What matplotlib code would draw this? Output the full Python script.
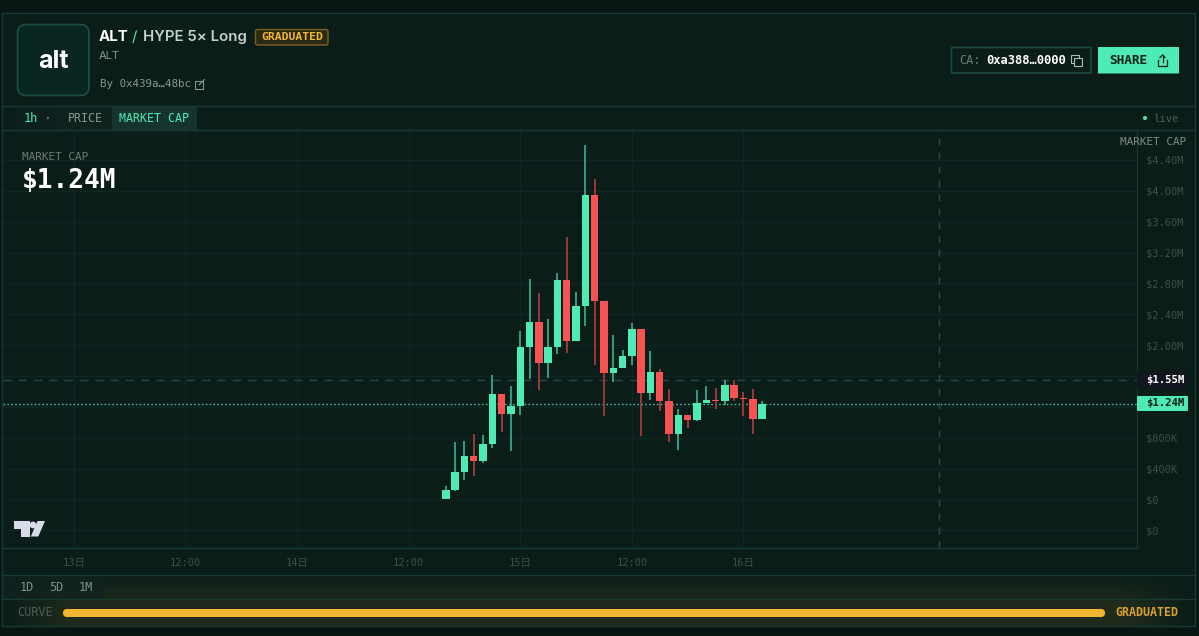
import matplotlib
matplotlib.use("Agg")
import matplotlib.pyplot as plt
from matplotlib.patches import Rectangle, FancyBboxPatch, Polygon, Circle
import numpy as np

plt.rcParams['font.family'] = ['DejaVu Sans Mono', 'Noto Sans CJK JP']

# hourly candles, x = hours after 14日 16:00, values in $M
hours = list(range(35))
opens = [0.01, 0.12, 0.36, 0.56, 0.505, 0.715, 1.363, 1.104, 1.21, 1.97, 2.304, 1.77,
         1.98, 2.848, 2.058, 2.51, 3.948, 2.572, 1.64, 1.709, 1.864, 2.21, 1.381, 1.653,
         1.273, 0.845, 1.096, 1.027, 1.247, 1.291, 1.278, 1.48, 1.311, 1.304, 1.049]
closes = [0.12, 0.36, 0.56, 0.505, 0.715, 1.363, 1.104, 1.213, 1.972, 2.304, 1.77, 1.981,
          2.848, 2.058, 2.511, 3.948, 2.572, 1.64, 1.709, 1.864, 2.21, 1.381, 1.653, 1.273,
          0.845, 1.096, 1.027, 1.247, 1.291, 1.278, 1.48, 1.311, 1.304, 1.049, 1.24]
highs = [0.181, 0.751, 0.76, 0.85, 0.841, 1.614, 1.363, 1.476, 2.188, 2.857, 2.671, 2.343,
         2.935, 3.401, 2.684, 4.595, 4.151, 2.572, 2.136, 1.933, 2.287, 2.21, 1.92, 1.692,
         1.437, 1.174, 1.096, 1.424, 1.467, 1.45, 1.55, 1.55, 1.394, 1.433, 1.273]
lows = [0.01, 0.107, 0.259, 0.311, 0.479, 0.664, 0.871, 0.625, 1.10, 1.562, 1.424, 1.575,
        1.881, 1.894, 2.058, 2.252, 1.748, 1.078, 1.518, 1.709, 1.744, 0.828, 1.295, 1.152,
        0.742, 0.647, 0.932, 1.014, 1.247, 1.169, 1.221, 1.278, 1.078, 0.854, 1.049]

y_ticks = [-0.4, 0, 0.4, 0.8, 1.2, 1.6, 2.0, 2.4, 2.8, 3.2, 3.6, 4.0, 4.4]
y_labels = ["$0", "$0", "$400K", "$800K", "", "", "$2.00M", "$2.40M", "$2.80M",
            "$3.20M", "$3.60M", "$4.00M", "$4.40M"]
x_ticks = [-40, -28, -16, -4, 8, 20, 32]
x_labels = ["13日", "12:00", "14日", "12:00", "15日", "12:00", "16日"]

last_price = 1.243
high_price = 1.55
crosshair_x = 53

BG = "#0b1d19"
BORDER = "#173a32"
GRID = "#102623"
GREEN = "#4eebb5"
RED = "#f95252"
GREEN_WICK = "#35a987"
RED_WICK = "#a83a3a"
GOLD = "#f2b632"
GREY = "#6f7b77"
DIM = "#3f4e4a"

fig = plt.figure(figsize=(11.99, 6.36), dpi=100, facecolor=BG)

# chart area
ax = fig.add_axes([3 / 1199, 1 - 548 / 636, 1134 / 1199, 417 / 636], zorder=1)
ax.patch.set_alpha(0)
ax.set_xlim(-47.6, 74.3)
ax.set_ylim(-0.628, 4.774)
for side in ax.spines:
    ax.spines[side].set_visible(False)
ax.spines['right'].set_visible(True)
ax.spines['right'].set_color(BORDER)
ax.grid(True, color=GRID, linewidth=1)
ax.set_axisbelow(True)
ax.yaxis.tick_right()
ax.set_yticks(y_ticks)
ax.set_yticklabels(y_labels, color=DIM, fontsize=7.5)
ax.set_xticks(x_ticks)
ax.set_xticklabels(x_labels, color=DIM, fontsize=7.5)
ax.tick_params(axis='both', length=0)
ax.tick_params(axis='y', pad=6.5)
ax.tick_params(axis='x', pad=7)

ax.axhline(high_price, color="#1f4a40", linewidth=1, linestyle=(0, (6, 5)), zorder=1.5)
ax.axhline(last_price, color="#3fbf98", linewidth=1, linestyle=(0, (1.2, 1.6)), zorder=1.5)
ax.axvline(crosshair_x, color="#2a4a42", linewidth=1, linestyle=(0, (5, 5)), zorder=1.5)

for h, o, c, hi, lo in zip(hours, opens, closes, highs, lows):
    up = c >= o
    ax.vlines(h, lo, hi, color=GREEN_WICK if up else RED_WICK, linewidth=1.3, zorder=2)
    ax.bar(h, abs(c - o), bottom=min(o, c), width=0.8, color=GREEN if up else RED, zorder=3)

# page furniture, in pixel coordinates
ui = fig.add_axes([0, 0, 1, 1], zorder=2)
ui.set_xlim(0, 1199)
ui.set_ylim(636, 0)
ui.axis('off')
ui.patch.set_alpha(0)


def label(x, y, s, color=GREY, size=7.5, ha='left', **kw):
    ui.text(x, y, s, color=color, fontsize=size, ha=ha, va='center', **kw)


def box(x0, y0, x1, y1, face, edge='none', radius=0, lw=1, **kw):
    ui.add_patch(FancyBboxPatch((x0, y0), x1 - x0, y1 - y0, boxstyle=f"round,pad=0,rounding_size={radius}",
                                facecolor=face, edgecolor=edge, linewidth=lw, **kw))


# outer margins
ui.add_patch(Rectangle((0, 0), 1199, 13, color="#091614", lw=0))
ui.add_patch(Rectangle((0, 627), 1199, 9, color="#091614", lw=0))
ui.add_patch(Rectangle((1196, 0), 3, 636, color="#091614", lw=0))
ui.add_patch(Rectangle((0, 0), 2, 636, color="#091614", lw=0))

# gold glow behind the curve strip
yy, xx = np.mgrid[0:51, 0:1190]
glow = np.zeros((51, 1190, 4))
glow[..., 0] = 0.95
glow[..., 1] = 0.72
glow[..., 2] = 0.2
glow[..., 3] = 0.1 * np.exp(-((yy - 38) / 28.0) ** 2) * np.clip(1 - np.abs(xx - 595) / 595.0, 0, 0.12) / 0.12
ui.imshow(glow, extent=(3, 1193, 626, 575), aspect='auto', zorder=0.5)
ui.set_xlim(0, 1199)
ui.set_ylim(636, 0)

for y in [13, 106, 130, 575, 599, 626]:
    ui.plot([2, 1195], [y, y], color=BORDER, linewidth=1)
ui.plot([2, 2], [13, 626], color=BORDER, linewidth=1)
ui.plot([1195, 1195], [13, 626], color=BORDER, linewidth=1)
ui.plot([3, 1137], [548, 548], color=BORDER, linewidth=1)

# header
box(17.5, 24.5, 89, 95.5, "#0a2622", "#1f4f44", radius=9, lw=1.2)
label(53, 61.5, "alt", color="white", size=18, ha='center', family='Inter', weight='bold')
label(99, 37, "ALT", color="white", size=10.8, family='Inter', weight='bold')
label(132, 37, "/", color=GREEN, size=10.8, family='Inter')
label(143, 37, "HYPE 5× Long", color="#c3cfcb", size=10.8, family='Inter', weight='semibold')
box(255.5, 29.5, 328, 45, "#2a2a14", "#7a6020", radius=2)
label(292, 37.5, "GRADUATED", color=GOLD, size=8.2, ha='center', weight='bold')
label(99, 56, "ALT", color="#8a9692", size=8, family='Inter')
label(100, 84, "By 0x439a…48bc", color="#8a9692", size=7.8)
# external link icon
ui.add_patch(Rectangle((195, 81), 8, 8, fill=False, edgecolor="#8a9692", linewidth=0.8))
ui.plot([199, 204.5], [85, 79.5], color="#8a9692", linewidth=0.8)

# CA box and share button
box(951.5, 47.5, 1091, 73, BG, "#1f4a40", radius=1, lw=1.2)
label(959, 60.5, "CA:", color=GREY, size=8.6)
label(986, 60.5, "0xa388…0000", color="white", size=8.7, weight='bold')
ui.add_patch(Rectangle((1071, 55), 8, 8, fill=False, edgecolor="#b0bbb7", linewidth=0.8))
ui.add_patch(Rectangle((1074, 58), 8, 8, facecolor=BG, edgecolor="#b0bbb7", linewidth=0.8))
box(1098, 47, 1179, 73.5, GREEN)
label(1109, 60.5, "SHARE", color="#0a1f1a", size=9.2, weight='bold')
ui.plot([1158, 1158, 1167, 1167], [60, 65.5, 65.5, 60], color="#0a1f1a", linewidth=0.9)
ui.plot([1162.5, 1162.5], [62, 55], color="#0a1f1a", linewidth=0.9)
ui.plot([1160, 1162.5, 1165], [57.5, 55, 57.5], color="#0a1f1a", linewidth=0.9)

# tabs
ui.add_patch(Rectangle((17, 107), 41, 23, color="#0e201d", lw=0))
ui.add_patch(Rectangle((58, 107), 54, 23, color="#0f221e", lw=0))
ui.add_patch(Rectangle((112, 107), 85, 23, color="#16342d", lw=0))
label(24, 118.5, "1h", color=GREEN, size=8.6)
label(47, 118.5, "▾", color="#8a9692", size=4.5, ha='center')
label(68, 118.5, "PRICE", color="#8a9692", size=8.4)
label(119, 118.5, "MARKET CAP", color=GREEN, size=8.4)
ui.add_patch(Circle((1145, 118), 2, color=GREEN, lw=0))
label(1153, 118.5, "live", color="#4f5c58", size=7.7)

# chart overlays
label(22, 157, "MARKET CAP", color=GREY, size=7.9)
label(22, 181, "$1.24M", color="white", size=18.8, weight='bold')
label(1186, 142, "MARKET CAP", color="#7f8b87", size=7.9, ha='right')
ui.add_patch(Rectangle((1137, 371), 51, 18, color="#12161f", lw=0))
label(1146, 380, "$1.55M", color="white", size=7.7, weight='bold')
box(1137, 396, 1188, 411, GREEN, radius=1)
label(1146, 403.5, "$1.24M", color="#0a1f1a", size=7.7, weight='bold')

# tradingview logo
logo = "#d8dbe8"
ui.add_patch(Polygon([(14, 521), (29.5, 521), (29.5, 536.5), (21, 536.5), (21, 528.5), (14, 528.5)], color=logo, lw=0))
ui.add_patch(Circle((33, 525), 3.4, color=logo, lw=0))
ui.add_patch(Polygon([(37.5, 521), (45, 521), (38.3, 536.5), (30.8, 536.5)], color=logo, lw=0))

# footer
ui.add_patch(Rectangle((3, 576), 100, 23, color="#12231f", lw=0, alpha=0.7))
label(20, 587.5, "1D", color="#7f8f8a", size=8.5)
label(49.5, 587.5, "5D", color="#7f8f8a", size=8.5)
label(79, 587.5, "1M", color="#7f8f8a", size=8.5)
label(17, 613, "CURVE", color="#4f5c58", size=8.5)
box(63, 609, 1105, 617, GOLD, radius=4)
label(1115, 613, "GRADUATED", color="#d9a22c", size=8.4, weight='bold')

fig.savefig("out.png", dpi=100, facecolor=fig.get_facecolor())
